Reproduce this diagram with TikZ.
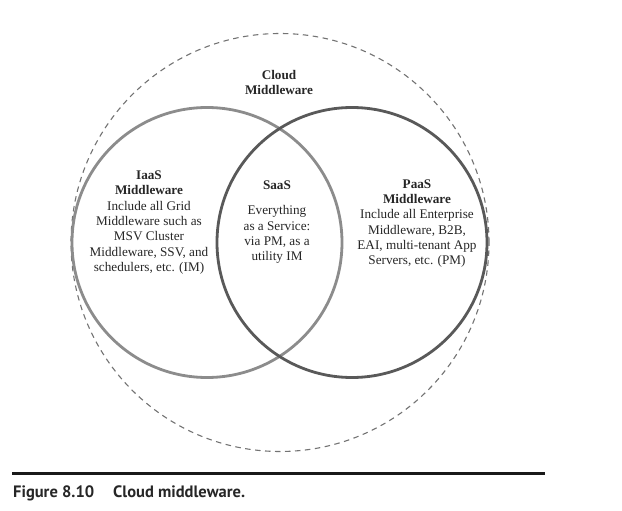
\documentclass[tikz,border=0pt]{standalone}
\usepackage{fontspec}
\setmainfont{Liberation Serif}
\newfontfamily\capfont{PT Sans}
\begin{document}
\begin{tikzpicture}[x=1pt,y=-1pt,
  txt/.style={align=center,inner sep=0pt,text=black!85,font=\fontsize{13.2}{15.3}\selectfont},
  ring/.style={circle,inner sep=0pt,minimum size=#1},
]
\useasboundingbox (0,0) rectangle (622,511);
\node[ring=418pt,draw=black!55,line width=1.1pt,dash pattern=on 5.5pt off 4.5pt] (cloud) at (280,242.5) {};
\node[ring=270pt,draw=black!45,line width=2.8pt] (iaas) at (207,242.5) {};
\node[ring=270pt,draw=black!65,line width=2.8pt] (paas) at (352,242.5) {};
\node[txt] (cloudt) at (279,82.5) {\textbf{Cloud}\\\textbf{Middleware}};
\node[txt] (iaast) at (149,222.5) {\textbf{IaaS}\\\textbf{Middleware}\\Include all Grid\\Middleware such as\\MSV Cluster\\Middleware, SSV, and\\schedulers, etc. (IM)};
\node[txt] (saash) at (277,185) {\textbf{SaaS}};
\node[txt] (saast) at (277,234.5) {Everything\\as a Service:\\via PM, as a\\utility IM};
\node[txt] (paast) at (417,223.5) {\textbf{PaaS}\\\textbf{Middleware}\\Include all Enterprise\\Middleware, B2B,\\EAI, multi-tenant App\\Servers, etc. (PM)};
\coordinate (rl) at (12,473.5);
\coordinate (rr) at (545,473.5);
\draw[line width=3pt,black!90] (rl) -- (rr);
\node[anchor=west,inner sep=0pt,font=\capfont\bfseries\fontsize{16.5}{18}\selectfont,text=black!85] (cap) at (13,493) {Figure 8.10\hspace{19pt}Cloud middleware.};
\end{tikzpicture}
\end{document}
